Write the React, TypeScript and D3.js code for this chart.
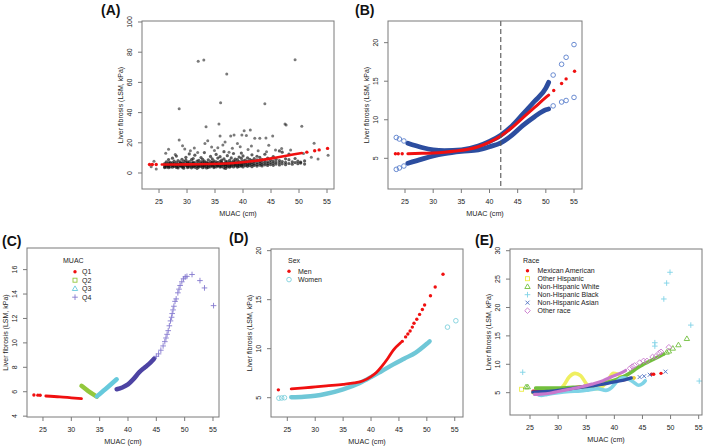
import React from "react";
import * as d3 from "d3";

type Pt = [number, number];

// ---------- shared ticks ----------
const xTicks = [25, 30, 35, 40, 45, 50, 55];
const yTicksA = [0, 20, 40, 60, 80, 100];
const yTicksB = [5, 10, 15, 20];
const yTicksC = [4, 6, 8, 10, 12, 14, 16];
const yTicksD = [5, 10, 15, 20];
const yTicksE = [5, 10, 15, 20, 25, 30];

// ---------- Panel A: raw observations ----------
const cloudA: [number, number[]][] = [
  [26.0, [4.1, 5.3, 6.2, 3.6]],
  [26.3, [4.8, 5.9, 7.4, 3.9]],
  [26.7, [4.3, 5.1, 6.8, 8.9, 3.5]],
  [27.0, [5.6, 4.0, 7.1, 6.0]],
  [27.4, [3.8, 4.9, 5.5, 6.7, 9.8]],
  [27.7, [4.4, 5.2, 6.3, 7.8]],
  [28.1, [3.7, 4.6, 5.8, 6.9, 11.2]],
  [28.4, [4.2, 5.4, 6.1, 8.2, 3.3]],
  [28.8, [4.7, 5.0, 6.6, 7.3]],
  [29.1, [3.9, 4.5, 5.7, 6.4, 9.1]],
  [29.4, [4.1, 5.3, 6.0, 7.7, 3.2]],
  [29.8, [4.8, 5.6, 6.9, 8.5, 10.4]],
  [30.1, [3.6, 4.4, 5.2, 6.3, 7.0]],
  [30.4, [4.0, 5.0, 5.9, 7.5, 12.6]],
  [30.8, [3.4, 4.6, 5.5, 6.6, 8.8]],
  [31.1, [4.2, 5.1, 6.2, 7.2, 9.6]],
  [31.4, [3.8, 4.9, 5.7, 6.8, 11.8]],
  [31.8, [4.5, 5.3, 6.0, 7.9, 3.1]],
  [32.1, [3.9, 4.7, 5.6, 6.5, 8.3]],
  [32.5, [4.3, 5.2, 6.1, 7.4, 10.2]],
  [32.8, [3.5, 4.8, 5.8, 6.9, 9.0]],
  [33.1, [4.0, 5.0, 5.4, 6.7, 7.8, 13.5]],
  [33.5, [4.4, 5.5, 6.3, 7.1, 3.3]],
  [33.8, [3.7, 4.6, 5.9, 6.6, 8.7]],
  [34.2, [4.1, 5.2, 6.0, 7.6, 11.0]],
  [34.5, [4.8, 5.6, 6.4, 7.0, 9.4]],
  [34.8, [3.6, 4.3, 5.1, 6.8, 8.1]],
  [35.2, [4.0, 5.4, 6.2, 7.3, 12.3]],
  [35.5, [4.6, 5.0, 5.8, 6.9, 9.9]],
  [35.9, [3.9, 4.7, 6.1, 7.7, 10.8]],
  [36.2, [4.2, 5.3, 6.5, 7.2, 8.6]],
  [36.6, [3.4, 4.9, 5.7, 6.3, 9.3, 14.1]],
  [36.9, [4.4, 5.5, 6.6, 7.9, 3.0]],
  [37.2, [4.1, 5.1, 6.0, 7.4, 11.5]],
  [37.6, [3.8, 4.6, 5.9, 6.8, 8.4]],
  [37.9, [4.5, 5.2, 6.2, 7.1, 10.0]],
  [38.3, [4.0, 5.6, 6.7, 8.0, 12.9]],
  [38.6, [4.7, 5.3, 6.1, 7.5, 9.2]],
  [39.0, [3.9, 4.8, 5.8, 6.9, 8.8]],
  [39.3, [4.3, 5.4, 6.4, 7.6, 10.6]],
  [39.7, [4.6, 5.1, 6.0, 7.3, 9.7, 13.2]],
  [40.0, [4.0, 5.5, 6.6, 8.1, 11.3]],
  [40.4, [4.8, 5.9, 7.0, 8.6]],
  [40.8, [4.4, 5.3, 6.3, 7.8, 10.1]],
  [41.2, [4.9, 6.1, 7.2, 9.0]],
  [41.6, [4.2, 5.6, 6.8, 8.3, 12.0]],
  [42.0, [5.0, 6.0, 7.5, 9.5]],
  [42.5, [4.6, 5.7, 6.9, 8.7, 11.1]],
  [43.0, [5.2, 6.4, 7.7, 10.3]],
  [43.4, [4.7, 5.8, 7.1, 8.9]],
  [43.9, [5.4, 6.6, 8.0, 12.4]],
  [44.4, [5.0, 6.2, 7.4, 9.8]],
  [44.9, [5.6, 6.9, 8.4]],
  [45.4, [5.1, 6.5, 7.9, 10.9]],
  [45.9, [5.9, 7.3, 9.1]],
  [46.5, [5.3, 6.8, 8.2, 14.6]],
  [47.0, [6.1, 7.6, 13.8]],
  [47.6, [5.5, 7.0, 9.4]],
  [48.2, [6.3, 8.8, 12.5]],
  [48.8, [5.8, 7.4]],
  [49.3, [6.9, 9.6]],
  [49.8, [7.8, 6.2]],
  [50.3, [6.6, 7.2]],
  [51.0, [8.0, 5.9]],
];
const outliersA: Pt[] = [
  [23.6, 4.2], [24.1, 7.8], [24.5, 2.6], [26.2, 13.0], [26.7, 15.7], [27.9, 12.2],
  [28.6, 21.9], [28.6, 42.6], [29.2, 18.0], [29.6, 15.9], [30.6, 14.8], [31.3, 16.5],
  [31.9, 13.6], [32.0, 74.0], [33.0, 74.8], [33.2, 19.6], [33.4, 30.7], [33.7, 21.3],
  [34.4, 17.2], [34.9, 14.9], [35.5, 16.8], [35.7, 32.5], [35.9, 24.5], [36.0, 46.6],
  [36.4, 18.6], [36.8, 20.6], [37.1, 65.6], [37.5, 13.7], [37.8, 24.5], [38.1, 16.4],
  [38.4, 25.1], [39.0, 19.5], [39.5, 17.3], [39.8, 25.1], [40.2, 28.0], [40.6, 24.8],
  [40.9, 15.5], [41.3, 28.5], [41.5, 17.8], [42.1, 23.0], [42.7, 14.8], [43.0, 23.0],
  [43.9, 45.9], [44.1, 23.2], [44.2, 14.0], [44.6, 18.4], [45.3, 24.5], [45.8, 15.2],
  [46.9, 16.2], [47.5, 32.5], [47.7, 31.8], [48.5, 15.3], [49.3, 75.0], [50.5, 31.0],
  [50.8, 12.9], [52.2, 10.4], [52.7, 19.7], [53.4, 9.2], [55.2, 11.8],
];

// ---------- fitted curve (A & B) ----------
const fitDense: Pt[] = [
  [25.5, 5.6], [28, 5.65], [30, 5.7], [32, 5.8], [34, 5.95], [36, 6.15], [38, 6.5],
  [40, 7.1], [42, 7.9], [44, 9.0], [46, 10.3], [48, 11.6], [50, 12.9], [50.5, 13.2],
];
const fitSparse: Pt[] = [
  [23.3, 5.6], [23.8, 5.6], [24.5, 5.6], [51.4, 13.8], [52.8, 14.7], [53.6, 15.3], [55.1, 16.3],
];
const upperDense: Pt[] = [
  [25.5, 6.95], [28, 6.4], [30, 6.1], [32, 6.0], [35, 6.1], [38, 6.6], [40, 7.2],
  [42, 8.0], [44, 9.2], [46, 10.8], [48, 12.4], [50, 14.1], [50.5, 14.85],
];
const upperSparse: Pt[] = [
  [23.45, 7.7], [24.0, 7.5], [24.8, 7.25], [51.3, 15.8], [52.8, 17.2], [53.6, 18.1], [55.0, 19.75],
];
const lowerDense: Pt[] = [
  [25.5, 4.35], [28, 4.9], [30, 5.3], [32, 5.6], [35, 5.9], [38, 6.1], [40, 6.5],
  [42, 7.0], [44, 8.0], [46, 9.3], [48, 10.4], [50, 11.3], [50.5, 11.4],
];
const lowerSparse: Pt[] = [
  [23.45, 3.57], [24.0, 3.75], [24.8, 4.0], [51.3, 11.8], [52.8, 12.3], [53.6, 12.5], [55.0, 12.9],
];
const cutPoint = 42;

// ---------- Panel C: quartiles ----------
const q1Dense: Pt[] = [[25.5, 5.65], [28, 5.58], [30, 5.5], [31.8, 5.43]];
const q1Sparse: Pt[] = [[23.4, 5.73], [24.1, 5.72], [24.5, 5.71]];
const q2Dense: Pt[] = [[31.8, 6.48], [33, 6.05], [34.5, 5.6]];
const q3Dense: Pt[] = [[34.5, 5.62], [36, 6.2], [38, 7.02]];
const q4Dense: Pt[] = [
  [38, 6.2], [39, 6.35], [40, 6.6], [41, 7.05], [42, 7.6], [43, 8.0], [44, 8.4], [44.6, 8.7],
];
const q4Sparse: Pt[] = [
  [45.0, 8.9], [45.4, 9.1], [45.8, 9.4], [46.2, 9.75], [46.5, 10.1], [46.7, 10.4],
  [46.9, 10.7], [47.1, 11.0], [47.3, 11.4], [47.5, 11.8], [47.7, 12.1], [47.8, 12.4],
  [47.95, 12.7], [48.1, 13.0], [48.3, 13.4], [48.5, 13.6], [48.8, 14.1], [49.0, 14.4],
  [49.2, 14.7], [49.5, 15.0], [49.8, 15.25], [50.1, 15.4], [50.4, 15.45], [51.3, 15.6],
  [52.7, 15.1], [53.5, 14.5], [55.1, 13.05],
];
const quartileLabels = ["Q1", "Q2", "Q3", "Q4"];

// ---------- Panel D: sex ----------
const menDense: Pt[] = [
  [25.7, 5.9], [28, 6.0], [30, 6.1], [32, 6.2], [35, 6.35], [37, 6.5], [38.5, 6.7],
  [40, 7.15], [41, 7.6], [42, 8.25], [43, 9.0], [44, 9.85], [45.3, 10.6],
];
const menSparse: Pt[] = [
  [23.4, 5.8], [45.6, 10.75], [46.2, 11.2], [46.6, 11.5], [47.0, 11.8], [47.4, 12.2],
  [47.7, 12.6], [48.2, 13.0], [48.7, 13.5], [49.2, 14.0], [49.6, 14.46], [50.65, 15.4],
  [51.5, 16.3], [52.9, 17.6],
];
const womenDense: Pt[] = [
  [25.7, 5.05], [28, 5.1], [30, 5.2], [32, 5.4], [35, 5.85], [38, 6.5], [40, 7.1],
  [42, 7.75], [44, 8.4], [46, 9.0], [48, 9.6], [50, 10.5], [50.5, 10.75],
];
const womenSparse: Pt[] = [
  [23.5, 4.95], [24.0, 4.97], [24.5, 5.0], [53.7, 12.2], [55.2, 12.85],
];
const sexLabels = ["Men", "Women"];

// ---------- Panel E: race ----------
const mexDense: Pt[] = [
  [25.5, 5.3], [28, 5.4], [30, 5.6], [33, 5.9], [36, 6.3], [38, 6.6], [40, 7.0], [42, 7.3], [43.5, 7.6],
];
const mexSparse: Pt[] = [[46.6, 8.24], [47.0, 8.25], [48.3, 8.4]];
const hisDense: Pt[] = [
  [25.5, 5.0], [27, 4.8], [28.5, 4.9], [30, 5.3], [31, 6.3], [32, 7.8], [33, 8.4], [34, 8.0],
  [35, 6.6], [36, 5.8], [37, 5.7], [38, 6.2], [39, 7.4], [39.8, 8.4], [40.5, 8.3], [41.5, 7.6],
  [42.5, 7.4], [43.5, 7.6],
];
const hisSparse: Pt[] = [[23.5, 5.6]];
const whiteDense: Pt[] = [
  [26, 5.8], [28, 5.8], [30, 5.8], [32, 5.9], [34, 6.0], [36, 6.2], [38, 6.6], [40, 7.2],
  [42, 8.0], [43, 8.6], [44, 9.3], [45, 9.9], [46, 10.4], [47, 10.9], [48, 11.4], [48.8, 11.8],
];
const whiteSparse: Pt[] = [
  [24.3, 6.0], [24.6, 6.0], [49.3, 12.1], [49.7, 12.3], [50.4, 12.8], [51.4, 13.4], [52.9, 14.5],
];
const blackDense: Pt[] = [
  [26, 4.9], [27, 4.5], [28, 4.7], [30, 5.0], [32, 5.2], [34, 5.3], [35.5, 5.5], [37, 5.7],
  [38.5, 5.4], [39.5, 5.9], [40.5, 7.0], [41.5, 7.6], [42.5, 7.4], [43.5, 6.8], [44.3, 6.3],
  [45, 6.6], [45.5, 7.1],
];
const blackSparse: Pt[] = [
  [23.7, 8.6], [47.2, 13.2], [47.2, 13.8], [48.8, 21.5], [49.3, 24.3], [49.9, 26.2],
  [53.6, 16.9], [55.1, 7.05],
];
const asianDense: Pt[] = [
  [25.5, 5.1], [28, 5.2], [30, 5.4], [33, 5.8], [36, 6.2], [38, 6.5], [40, 6.9], [42, 7.3], [43, 7.6],
];
const asianSparse: Pt[] = [[44.5, 7.75], [45.3, 7.9], [46.3, 8.15], [49.1, 8.7]];
const otherDense: Pt[] = [
  [25.8, 4.7], [27, 4.75], [28.5, 4.9], [30, 5.2], [32, 5.6], [34, 6.0], [36, 6.5], [38, 7.1],
  [39.5, 7.8], [41, 8.4], [42, 8.9],
];
const otherSparse: Pt[] = [
  [42.8, 9.3], [43.2, 9.6], [43.6, 9.8], [44.5, 10.3], [45.2, 10.6], [45.8, 10.6],
  [46.8, 11.3], [47.4, 11.4], [48.0, 12.0], [48.3, 12.2], [49.7, 13.0],
];
const raceLabels = [
  "Mexican American", "Other Hispanic", "Non-Hispanic White",
  "Non-Hispanic Black", "Non-Hispanic Asian", "Other race",
];

// ---------- styling ----------
const FONT = "'Liberation Sans', Arial, Helvetica, sans-serif";
const AXIS = "#7a7a7a";
const TXT = "#222";
const YTITLE = "Liver fibrosis (LSM, kPa)";
const XTITLE = "MUAC  (cm)";

type Box = { x0: number; x1: number; y0: number; y1: number; xd: [number, number]; yd: [number, number] };
type Sc = d3.ScaleLinear<number, number>;

const boxA: Box = { x0: 142, x1: 334, y0: 21, y1: 189, xd: [21.96, 56.25], yd: [-10.6, 100.66] };
const boxB: Box = { x0: 388, x1: 582, y0: 21, y1: 189, xd: [21.98, 56.42], yd: [1.02, 22.81] };
const boxC: Box = { x0: 27, x1: 219, y0: 248, y1: 417, xd: [22.18, 56.06], yd: [3.93, 17.77] };
const boxD: Box = { x0: 271, x1: 463, y0: 249, y1: 417, xd: [22.08, 56.48], yd: [3.03, 20.17] };
const boxE: Box = { x0: 510, x1: 702, y0: 249, y1: 415, xd: [21.44, 55.59], yd: [1.07, 30.3] };

type Shape = "dot" | "circle" | "square" | "triangle" | "plus" | "cross" | "diamond";

function Marker({ shape, x, y, color }: { shape: Shape; x: number; y: number; color: string }) {
  const sw = 0.9;
  switch (shape) {
    case "dot":
      return <circle cx={x} cy={y} r={1.7} fill={color} />;
    case "circle":
      return <circle cx={x} cy={y} r={2.3} fill="none" stroke={color} strokeWidth={sw} />;
    case "square":
      return <rect x={x - 2} y={y - 2} width={4} height={4} fill="none" stroke={color} strokeWidth={sw} />;
    case "triangle":
      return (
        <path d={`M${x},${y - 2.8}L${x + 2.7},${y + 1.8}L${x - 2.7},${y + 1.8}Z`} fill="none" stroke={color} strokeWidth={sw} />
      );
    case "plus":
      return (
        <path d={`M${x - 2.8},${y}H${x + 2.8}M${x},${y - 2.8}V${y + 2.8}`} stroke={color} strokeWidth={sw} />
      );
    case "cross":
      return (
        <path d={`M${x - 2},${y - 2}L${x + 2},${y + 2}M${x - 2},${y + 2}L${x + 2},${y - 2}`} stroke={color} strokeWidth={sw} />
      );
    case "diamond":
      return (
        <path d={`M${x},${y - 2.8}L${x + 2.8},${y}L${x},${y + 2.8}L${x - 2.8},${y}Z`} fill="none" stroke={color} strokeWidth={sw} />
      );
  }
  return null;
}

function Series({
  x, y, dense, sparse, color, denseColor, width, shape, opacity,
}: {
  x: Sc; y: Sc; dense: Pt[]; sparse: Pt[]; color: string; denseColor?: string; width: number; shape: Shape; opacity?: number;
}) {
  const line = d3.line<Pt>().x((d) => x(d[0])).y((d) => y(d[1])).curve(d3.curveMonotoneX);
  return (
    <g>
      {dense.length > 1 && (
        <path d={line(dense) || ""} fill="none" stroke={denseColor || color} strokeWidth={width} strokeLinecap="round" strokeLinejoin="round" strokeOpacity={opacity ?? 1} />
      )}
      {sparse.map((p, i) => (
        <Marker key={i} shape={shape} x={x(p[0])} y={y(p[1])} color={color} />
      ))}
    </g>
  );
}

function Frame({
  box, yTicks, label, lx, ly, children,
}: {
  box: Box; yTicks: number[]; label: string; lx: number; ly: number; children: (x: Sc, y: Sc) => React.ReactNode;
}) {
  const x = d3.scaleLinear().domain(box.xd).range([box.x0, box.x1]);
  const y = d3.scaleLinear().domain(box.yd).range([box.y1, box.y0]);
  const tl = 4;
  return (
    <g fontFamily={FONT}>
      <text x={lx} y={ly} fontSize={14} fontWeight="bold" fill="#111">{label}</text>
      <g>{children(x, y)}</g>
      <rect x={box.x0} y={box.y0} width={box.x1 - box.x0} height={box.y1 - box.y0} fill="none" stroke={AXIS} strokeWidth={1} />
      {xTicks.map((t) => (
        <g key={"x" + t}>
          <line x1={x(t)} x2={x(t)} y1={box.y1} y2={box.y1 + tl} stroke={AXIS} />
          <text x={x(t)} y={box.y1 + 15} fontSize={7} textAnchor="middle" fill={TXT}>{t}</text>
        </g>
      ))}
      {yTicks.map((t) => (
        <g key={"y" + t}>
          <line x1={box.x0 - tl} x2={box.x0} y1={y(t)} y2={y(t)} stroke={AXIS} />
          <text transform={`translate(${box.x0 - 10},${y(t)}) rotate(-90)`} fontSize={7} textAnchor="middle" fill={TXT}>{t}</text>
        </g>
      ))}
      <text x={(box.x0 + box.x1) / 2} y={box.y1 + 27} fontSize={7.2} textAnchor="middle" fill={TXT}>{XTITLE}</text>
      <text transform={`translate(${box.x0 - 19.5},${(box.y0 + box.y1) / 2}) rotate(-90)`} fontSize={7} textAnchor="middle" fill={TXT}>{YTITLE}</text>
    </g>
  );
}

function Legend({
  title, tx, ty, mx, lx, rows, gap, items,
}: {
  title: string; tx: number; ty: number; mx: number; lx: number; rows: number; gap: number;
  items: { label: string; shape: Shape; color: string }[];
}) {
  return (
    <g fontFamily={FONT} fontSize={7} fill={TXT}>
      <text x={tx} y={ty}>{title}</text>
      {items.map((it, i) => (
        <g key={it.label}>
          <Marker shape={it.shape} x={mx} y={rows + i * gap} color={it.color} />
          <text x={lx} y={rows + i * gap + 2.5}>{it.label}</text>
        </g>
      ))}
    </g>
  );
}

const RED = "#f01010";
const BLUE_D = "#2c4d9f";
const BLUE_L = "#5a7fcc";
const Q2C = "#93c83c";
const Q3C = "#66c9dc";
const Q4D = "#4d43a3";
const Q4L = "#8479cf";
const WOMEN_D = "#6fc7d7";
const WOMEN_L = "#7fd0dd";
const YEL = "#ecec44";
const GRN = "#72bf3d";
const CYN = "#7fd3e6";
const ASN = "#2e4fa6";
const ASN_L = "#4d6fc2";
const MAG = "#c878cc";

export default function App() {
  return (
    <svg width={709} height={448} style={{ position: "absolute", left: 0, top: 0, background: "#fff" }}>
      <rect x={0} y={0} width={709} height={448} fill="#fff" />

      {/* (A) */}
      <Frame box={boxA} yTicks={yTicksA} label="(A)" lx={101} ly={15}>
        {(x, y) => (
          <g>
            {cloudA.map(([cx, ys]) =>
              ys.map((v, j) => (
                <circle key={cx + "-" + j} cx={x(cx)} cy={y(v)} r={1.6} fill="#111" fillOpacity={0.68} />
              ))
            )}
            {outliersA.map((p, i) => (
              <circle key={"o" + i} cx={x(p[0])} cy={y(p[1])} r={1.5} fill="#222" fillOpacity={0.6} />
            ))}
            <Series x={x} y={y} dense={fitDense} sparse={fitSparse} color={RED} width={2.6} shape="dot" />
          </g>
        )}
      </Frame>

      {/* (B) */}
      <Frame box={boxB} yTicks={yTicksB} label="(B)" lx={355} ly={15}>
        {(x, y) => (
          <g>
            <Series x={x} y={y} dense={upperDense} sparse={upperSparse} color={BLUE_L} denseColor={BLUE_D} width={4.8} shape="circle" />
            <Series x={x} y={y} dense={lowerDense} sparse={lowerSparse} color={BLUE_L} denseColor={BLUE_D} width={4.8} shape="circle" />
            <Series x={x} y={y} dense={fitDense} sparse={fitSparse} color={RED} width={3} shape="dot" />
            <line x1={x(cutPoint)} x2={x(cutPoint)} y1={boxB.y0} y2={boxB.y1} stroke="#555" strokeWidth={1.1} strokeDasharray="5,3" />
          </g>
        )}
      </Frame>

      {/* (C) */}
      <Frame box={boxC} yTicks={yTicksC} label="(C)" lx={2} ly={246}>
        {(x, y) => (
          <g>
            <Series x={x} y={y} dense={q1Dense} sparse={q1Sparse} color={RED} width={2.8} shape="dot" />
            <Series x={x} y={y} dense={q2Dense} sparse={[]} color={Q2C} width={4.5} shape="square" />
            <Series x={x} y={y} dense={q3Dense} sparse={[]} color={Q3C} width={4.5} shape="triangle" />
            <Series x={x} y={y} dense={q4Dense} sparse={q4Sparse} color={Q4L} denseColor={Q4D} width={4.5} shape="plus" />
          </g>
        )}
      </Frame>
      <Legend
        title="MUAC" tx={63} ty={263} mx={75} lx={82} rows={271.7} gap={8.5}
        items={[
          { label: quartileLabels[0], shape: "dot", color: RED },
          { label: quartileLabels[1], shape: "square", color: Q2C },
          { label: quartileLabels[2], shape: "triangle", color: Q3C },
          { label: quartileLabels[3], shape: "plus", color: Q4L },
        ]}
      />

      {/* (D) */}
      <Frame box={boxD} yTicks={yTicksD} label="(D)" lx={229} ly={243}>
        {(x, y) => (
          <g>
            <Series x={x} y={y} dense={womenDense} sparse={womenSparse} color={WOMEN_L} denseColor={WOMEN_D} width={4.4} shape="circle" />
            <Series x={x} y={y} dense={menDense} sparse={menSparse} color={RED} width={2.8} shape="dot" />
          </g>
        )}
      </Frame>
      <Legend
        title="Sex" tx={288} ty={262.5} mx={289} lx={298} rows={271.3} gap={8.3}
        items={[
          { label: sexLabels[0], shape: "dot", color: RED },
          { label: sexLabels[1], shape: "circle", color: WOMEN_L },
        ]}
      />

      {/* (E) */}
      <Frame box={boxE} yTicks={yTicksE} label="(E)" lx={475} ly={245}>
        {(x, y) => (
          <g>
            <Series x={x} y={y} dense={mexDense} sparse={mexSparse} color={RED} width={3} shape="dot" />
            <Series x={x} y={y} dense={hisDense} sparse={hisSparse} color={YEL} width={3.6} shape="square" opacity={0.85} />
            <Series x={x} y={y} dense={whiteDense} sparse={whiteSparse} color={GRN} width={3.6} shape="triangle" />
            <Series x={x} y={y} dense={blackDense} sparse={blackSparse} color={CYN} width={3.6} shape="plus" />
            <Series x={x} y={y} dense={asianDense} sparse={asianSparse} color={ASN_L} denseColor={ASN} width={3.4} shape="cross" />
            <Series x={x} y={y} dense={otherDense} sparse={otherSparse} color={MAG} width={3.2} shape="diamond" />
          </g>
        )}
      </Frame>
      <Legend
        title="Race" tx={523} ty={262.5} mx={527.5} lx={537.5} rows={270.7} gap={8}
        items={[
          { label: raceLabels[0], shape: "dot", color: RED },
          { label: raceLabels[1], shape: "square", color: YEL },
          { label: raceLabels[2], shape: "triangle", color: GRN },
          { label: raceLabels[3], shape: "plus", color: CYN },
          { label: raceLabels[4], shape: "cross", color: ASN_L },
          { label: raceLabels[5], shape: "diamond", color: MAG },
        ]}
      />
    </svg>
  );
}
